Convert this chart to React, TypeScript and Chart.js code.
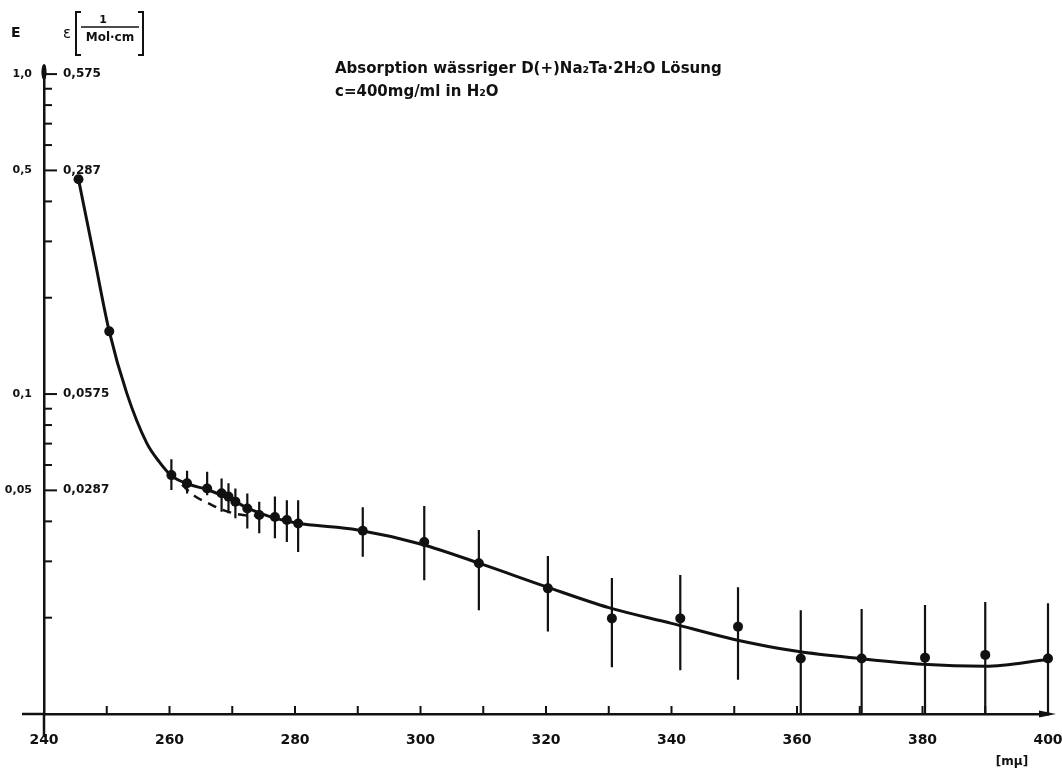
import React, { useEffect, useRef } from 'react';
import { Chart, registerables } from 'chart.js';

Chart.register(...registerables);

// ---- data ----
const pointX = [245.5, 250.4, 260.3, 262.8, 266, 268.3, 269.4, 270.5, 272.4, 274.3, 276.8, 278.7, 280.5, 290.8, 300.6, 309.3, 320.3, 330.5, 341.4, 350.6, 360.6, 370.3, 380.4, 390, 400];
const pointE = [0.469, 0.157, 0.0558, 0.0526, 0.0507, 0.049, 0.0478, 0.0461, 0.0439, 0.0419, 0.0413, 0.0404, 0.0394, 0.0374, 0.0345, 0.0296, 0.0247, 0.0199, 0.0199, 0.01875, 0.0149, 0.0149, 0.015, 0.0153, 0.0149];
const errLow = [null, null, 0.0501, 0.0489, 0.0483, 0.0429, 0.0424, 0.0409, 0.038, 0.0367, 0.0354, 0.0345, 0.0321, 0.031, 0.0262, 0.0211, 0.0181, 0.014, 0.0137, 0.0128, 0.01, 0.01, 0.01, 0.01, 0.01];
const errHigh = [null, null, 0.0625, 0.0576, 0.0572, 0.0545, 0.0526, 0.0507, 0.0489, 0.0461, 0.0478, 0.0466, 0.0466, 0.0443, 0.0447, 0.0376, 0.0312, 0.0266, 0.0272, 0.0249, 0.0211, 0.0213, 0.0219, 0.0224, 0.0222];

const curveX = [245.5, 248, 250.4, 253.2, 256.4, 258.4, 260.3, 263, 266, 270, 273, 276, 280, 290, 300, 310, 320, 330, 340, 350, 360, 370, 380, 390, 400];
const curveE = [0.469, 0.268, 0.157, 0.1005, 0.0701, 0.0613, 0.0556, 0.0523, 0.0503, 0.0466, 0.0435, 0.0414, 0.0396, 0.0376, 0.034, 0.0293, 0.025, 0.0215, 0.0192, 0.0171, 0.0157, 0.0149, 0.0143, 0.0141, 0.0148];

const dashX = [262, 264, 266, 268, 270, 272, 274];
const dashE = [0.052, 0.048, 0.0458, 0.0438, 0.0425, 0.0418, 0.0417];

const yTickValues = [1, 0.9, 0.8, 0.7, 0.6, 0.5, 0.4, 0.3, 0.2, 0.1, 0.09, 0.08, 0.07, 0.06, 0.05, 0.04, 0.03, 0.02];
const yLabelValues = [1, 0.5, 0.1, 0.05];
const yLabels = ['1,0', '0,5', '0,1', '0,05'];
const epsLabels = ['0,575', '0,287', '0,0575', '0,0287'];
const xTickValues = [250, 260, 270, 280, 290, 300, 310, 320, 330, 340, 350, 360, 370, 380, 390, 400];
const xLabelValues = [240, 260, 280, 300, 320, 340, 360, 380, 400];

const titleLine1 = 'Absorption wässriger D(+)Na₂Ta·2H₂O Lösung';
const titleLine2 = 'c=400mg/ml in H₂O';
const xUnit = '[mμ]';
const ink = '#111';
const FONT = 'DejaVu Sans';

const decoPlugin = {
  id: 'deco',
  afterDraw(chart: any) {
    const ctx = chart.ctx as CanvasRenderingContext2D;
    const xs = chart.scales.x;
    const ys = chart.scales.y;
    const { left, bottom } = chart.chartArea;
    ctx.save();
    ctx.strokeStyle = ink;
    ctx.fillStyle = ink;
    // inner y ticks
    ctx.lineWidth = 2;
    yTickValues.forEach((v) => {
      const p = ys.getPixelForValue(v);
      const major = yLabelValues.includes(v);
      ctx.beginPath();
      ctx.moveTo(left, p);
      ctx.lineTo(left + (major ? 13 : 8), p);
      ctx.stroke();
    });
    // inner x ticks
    xTickValues.forEach((v) => {
      const p = xs.getPixelForValue(v);
      ctx.beginPath();
      ctx.moveTo(p, bottom);
      ctx.lineTo(p, bottom - 8);
      ctx.stroke();
    });
    // axis extensions
    ctx.lineWidth = 2.5;
    ctx.beginPath();
    ctx.moveTo(22, bottom);
    ctx.lineTo(left, bottom);
    ctx.moveTo(left, bottom);
    ctx.lineTo(left, bottom + 23);
    ctx.stroke();
    // blob at top of y axis
    const p1 = ys.getPixelForValue(1);
    ctx.beginPath();
    ctx.ellipse(left, p1 - 2, 2.6, 8, 0, 0, Math.PI * 2);
    ctx.fill();
    // arrow at x end
    const xEnd = xs.getPixelForValue(400);
    ctx.beginPath();
    ctx.moveTo(xEnd - 9, bottom - 3.5);
    ctx.lineTo(xEnd + 8, bottom);
    ctx.lineTo(xEnd - 9, bottom + 3.5);
    ctx.closePath();
    ctx.fill();
    // eps labels
    ctx.font = `bold 12px "${FONT}"`;
    ctx.textAlign = 'left';
    ctx.textBaseline = 'middle';
    yLabelValues.forEach((v, i) => {
      ctx.fillText(epsLabels[i], left + 19, ys.getPixelForValue(v));
    });
    // header E, eps [1/Mol·cm]
    ctx.font = `bold 14px "${FONT}"`;
    ctx.fillText('E', 11, 33);
    ctx.font = `15px "${FONT}"`;
    ctx.fillText('ε', 63, 34);
    ctx.lineWidth = 2;
    ctx.beginPath();
    ctx.moveTo(81, 12); ctx.lineTo(76, 12); ctx.lineTo(76, 55); ctx.lineTo(81, 55);
    ctx.moveTo(138, 12); ctx.lineTo(143, 12); ctx.lineTo(143, 55); ctx.lineTo(138, 55);
    ctx.stroke();
    ctx.lineWidth = 1.6;
    ctx.beginPath();
    ctx.moveTo(81, 27); ctx.lineTo(139, 27);
    ctx.stroke();
    ctx.textAlign = 'center';
    ctx.font = `bold 11px "${FONT}"`;
    ctx.fillText('1', 103, 20);
    ctx.font = `bold 12px "${FONT}"`;
    ctx.fillText('Mol·cm', 110, 38);
    // title
    ctx.textAlign = 'left';
    ctx.font = `bold 15px "${FONT}"`;
    ctx.fillText(titleLine1, 335, 69);
    ctx.fillText(titleLine2, 335, 92);
    // unit
    ctx.textAlign = 'center';
    ctx.font = `bold 12px "${FONT}"`;
    ctx.fillText(xUnit, 1012, 762);
    ctx.restore();
  },
};

export default function App() {
  const ref = useRef<HTMLCanvasElement>(null);
  useEffect(() => {
    const canvas = ref.current!;
    const errData: any[] = [];
    pointX.forEach((x, i) => {
      if (errLow[i] == null || errHigh[i] == null) return;
      errData.push({ x, y: errLow[i] });
      errData.push({ x, y: errHigh[i] });
      errData.push({ x, y: null });
    });
    const chart = new Chart(canvas, {
      type: 'line',
      data: {
        datasets: [
          {
            label: 'curve',
            data: curveX.map((x, i) => ({ x, y: curveE[i] })),
            borderColor: ink,
            borderWidth: 3,
            pointRadius: 0,
            cubicInterpolationMode: 'monotone',
            fill: false,
            clip: false,
          } as any,
          {
            label: 'dashed',
            data: dashX.map((x, i) => ({ x, y: dashE[i] })),
            borderColor: ink,
            borderWidth: 2.5,
            borderDash: [9, 7],
            pointRadius: 0,
            cubicInterpolationMode: 'monotone',
            fill: false,
          } as any,
          {
            label: 'errors',
            data: errData,
            borderColor: ink,
            borderWidth: 2.2,
            pointRadius: 0,
            spanGaps: false,
            tension: 0,
            fill: false,
            clip: false,
          } as any,
          {
            label: 'points',
            data: pointX.map((x, i) => ({ x, y: pointE[i] })),
            showLine: false,
            pointRadius: 5,
            pointBackgroundColor: ink,
            pointBorderColor: ink,
            pointBorderWidth: 0,
            clip: false,
          } as any,
        ],
      },
      options: {
        responsive: false,
        animation: false,
        devicePixelRatio: 1,
        layout: { padding: { top: 66, right: 14, left: 0, bottom: 0 } },
        plugins: { legend: { display: false }, tooltip: { enabled: false } },
        scales: {
          x: {
            type: 'linear',
            min: 240,
            max: 400,
            afterFit(s: any) {
              s.height = 59;
              s.paddingLeft = 0;
              s.paddingRight = 0;
            },
            afterBuildTicks(s: any) {
              s.ticks = xLabelValues.map((v) => ({ value: v }));
            },
            grid: { display: false },
            border: { display: true, color: ink, width: 2.5 },
            ticks: {
              autoSkip: false,
              maxRotation: 0,
              padding: 10,
              color: ink,
              font: { family: FONT, size: 14, weight: 'bold' },
              callback: (v: any) => String(v),
            },
          },
          y: {
            type: 'logarithmic',
            min: 0.01,
            max: 1.06,
            afterFit(s: any) {
              s.width = 44;
            },
            afterBuildTicks(s: any) {
              s.ticks = yTickValues.map((v) => ({ value: v }));
            },
            grid: { display: false },
            border: { display: true, color: ink, width: 2.5 },
            ticks: {
              autoSkip: false,
              padding: 4,
              color: ink,
              font: { family: FONT, size: 11, weight: 'bold' },
              callback: (v: any) => {
                const i = yLabelValues.indexOf(Number(v));
                return i >= 0 ? yLabels[i] : '';
              },
            },
          } as any,
        },
      } as any,
      plugins: [decoPlugin],
    });
    return () => chart.destroy();
  }, []);
  return (
    <div style={{ position: 'fixed', left: 0, top: 0, width: 1062, height: 773, background: '#fff' }}>
      <canvas ref={ref} width={1062} height={773} style={{ display: 'block', width: 1062, height: 773 }} />
    </div>
  );
}
